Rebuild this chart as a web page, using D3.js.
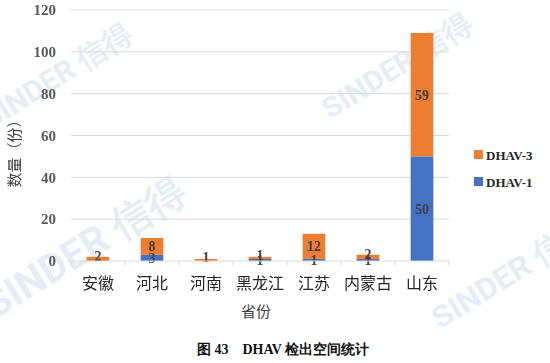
<!DOCTYPE html>
<html>
<head>
<meta charset="utf-8">
<script src="https://cdn.jsdelivr.net/npm/d3@7"></script>
<style>
  body { margin: 0; background: #fff; }
  svg { display: block; }
</style>
</head>
<body>
<div id="chart"></div>
<script>
const provinces = ['安徽', '河北', '河南', '黑龙江', '江苏', '内蒙古', '山东']
const dhav1 = [0, 3, 0, 1, 1, 1, 50]
const dhav3 = [2, 8, 1, 1, 12, 2, 59]
const yTicks = [0, 20, 40, 60, 80, 100, 120]
const seriesNames = ['DHAV-3', 'DHAV-1']

const width = 550
const height = 363
const serif = '"Liberation Serif", "Times New Roman", serif'
const cjk = '"Noto Sans CJK SC", sans-serif'

const svg = d3.select('#chart').append('svg')
  .attr('width', width).attr('height', height)

// watermark
const wm = svg.append('g').attr('fill', '#cfdceb').attr('opacity', 0.55)
  .style('font-family', 'Roboto, sans-serif').style('font-weight', 'bold')
const marks = [[-10, 130, 30], [330, 120, 30], [-5, 320, 40], [440, 330, 32]]
marks.forEach(m => {
  wm.append('text').attr('transform', `translate(${m[0]},${m[1]}) rotate(-32)`)
    .attr('font-size', m[2]).text('SINDER 信得')
})

const x = d3.scaleBand().domain(provinces).range([71, 449])
const y = d3.scaleLinear().domain([0, 120]).range([261, 10])
const barW = x.bandwidth() * 0.42

// grid
svg.append('g').selectAll('line').data(yTicks.slice(1)).join('line')
  .attr('x1', 71).attr('x2', 449)
  .attr('y1', d => y(d)).attr('y2', d => y(d))
  .attr('stroke', '#d9d9d9').attr('stroke-width', 1)

// y axis labels
svg.append('g').selectAll('text').data(yTicks).join('text')
  .attr('x', 56).attr('y', d => y(d)).attr('dy', '0.35em')
  .attr('text-anchor', 'end')
  .style('font-family', serif).style('font-weight', 'bold')
  .style('font-size', '15px').attr('fill', '#595959')
  .text(d => d)

// bars
const rows = provinces.map((p, i) => ({ p, a: dhav1[i], b: dhav3[i] }))
const g = svg.append('g')
g.selectAll('.b1').data(rows).join('rect').attr('class', 'b1')
  .attr('x', d => x(d.p) + (x.bandwidth() - barW) / 2)
  .attr('width', barW)
  .attr('y', d => y(d.a)).attr('height', d => y(0) - y(d.a))
  .attr('fill', '#4472c4')
g.selectAll('.b3').data(rows).join('rect').attr('class', 'b3')
  .attr('x', d => x(d.p) + (x.bandwidth() - barW) / 2)
  .attr('width', barW)
  .attr('y', d => y(d.a + d.b)).attr('height', d => y(d.a) - y(d.a + d.b))
  .attr('fill', '#ed7d31')

// data labels
const lab = svg.append('g')
  .style('font-family', serif).style('font-weight', 'bold')
  .style('font-size', '14px').attr('fill', '#404040').attr('text-anchor', 'middle')
rows.filter(d => d.a > 0).forEach(d => {
  lab.append('text').attr('x', x(d.p) + x.bandwidth() / 2)
    .attr('y', y(d.a / 2)).attr('dy', '0.35em').text(d.a)
})
rows.filter(d => d.b > 0).forEach(d => {
  lab.append('text').attr('x', x(d.p) + x.bandwidth() / 2)
    .attr('y', y(d.a + d.b / 2) - (d.b < 3 ? 3 : 0)).attr('dy', '0.35em').text(d.b)
})

// x axis
const xAxis = svg.append('g').attr('transform', `translate(0,${y(0)})`)
xAxis.append('line').attr('x1', 71).attr('x2', 449).attr('stroke', '#d9d9d9')
xAxis.selectAll('.tk').data(d3.range(provinces.length + 1)).join('line')
  .attr('x1', i => 71 + i * x.step()).attr('x2', i => 71 + i * x.step())
  .attr('y1', 0).attr('y2', 5).attr('stroke', '#d9d9d9')
xAxis.selectAll('text').data(provinces).join('text')
  .attr('x', d => x(d) + x.bandwidth() / 2).attr('y', 28)
  .attr('text-anchor', 'middle')
  .style('font-family', cjk).style('font-size', '16px').attr('fill', '#262626')
  .text(d => d)

// axis titles
svg.append('text').attr('x', 256).attr('y', 317).attr('text-anchor', 'middle')
  .style('font-family', cjk).style('font-size', '15px').attr('fill', '#404040')
  .text('省份')
svg.append('text').attr('transform', 'translate(20,150) rotate(-90)')
  .attr('text-anchor', 'middle')
  .style('font-family', cjk).style('font-size', '15px').attr('fill', '#404040')
  .text('数量（份）')

// legend
const colors = { 'DHAV-3': '#ed7d31', 'DHAV-1': '#4472c4' }
const leg = svg.append('g').attr('transform', 'translate(474,155)')
seriesNames.forEach((s, i) => {
  leg.append('rect').attr('x', 0).attr('y', i * 27 - 5).attr('width', 9).attr('height', 9)
    .attr('fill', colors[s])
  leg.append('text').attr('x', 12).attr('y', i * 27).attr('dy', '0.35em')
    .style('font-family', serif).style('font-weight', 'bold')
    .style('font-size', '13px').attr('fill', '#262626').text(s)
})

// caption
svg.append('text').attr('x', 283).attr('y', 354).attr('text-anchor', 'middle')
  .style('font-family', serif).style('font-weight', 'bold')
  .style('font-size', '14px').attr('fill', '#111')
  .text('图 43　DHAV 检出空间统计')
</script>
</body>
</html>
